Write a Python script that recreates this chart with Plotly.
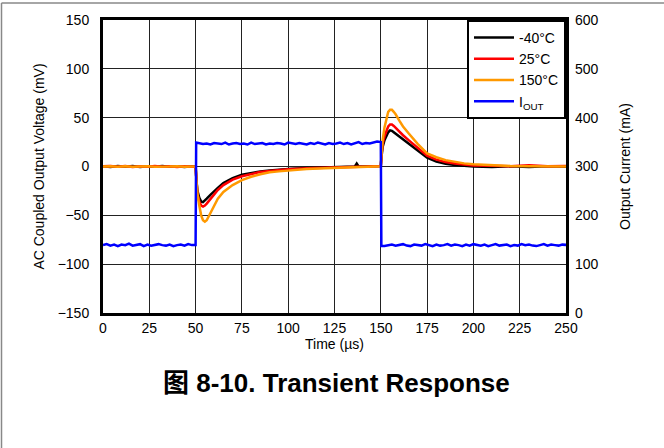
import plotly.graph_objects as go

# ---------------- data ----------------
v_t = [0, 4, 8, 12, 16, 20, 24, 28, 32, 36, 40, 44, 48, 50, 50.5, 51, 52, 53, 54, 55, 56, 58, 60, 62, 65, 68, 70,
       75, 80, 85, 90, 95, 100, 110, 120, 130, 136, 137, 138, 140, 148, 150, 150.5, 151, 152, 153, 154, 155, 156,
       157, 158, 160, 162, 165, 168, 170, 175, 180, 185, 190, 195, 200, 210, 220, 230, 240, 250]

v_m40 = [0.3, -0.4, 0.5, -0.2, 0.4, -0.5, 0.2, -0.3, 0.4, -0.2, 0.3, -0.4, 0.2, 0, -15, -25, -32, -36, -36.5, -35, -33, -29,
         -25, -22, -17, -14, -12, -8.5, -6.5, -5, -4, -3, -2.5, -1.5, -1, -0.5, 0, 3, 0, 0, 0, 0.5, 12, 20, 27, 32, 35,
         37, 36.5, 35, 33.5, 30.5, 27.5, 23, 18.5, 15.5, 9, 5, 2.8, 1.5, 0.8, 0, -0.6, 0.2, -0.5, 0.3, -0.2]

v_25 = [0.2, 0.5, -0.3, 0.4, -0.4, 0.3, -0.2, 0.5, -0.3, 0.2, -0.4, 0.3, -0.2, 0, -16, -28, -36, -40, -41, -40, -38, -33,
        -28, -24, -19, -15.5, -13.5, -10, -7.5, -5.5, -4.5, -3.5, -2.8, -1.8, -1, -0.6, -0.3, -0.2, -0.3, -0.2, 0, 0.5,
        14, 23, 31, 37, 41, 43, 43, 41.5, 39.5, 36, 32, 27, 22, 18.5, 11, 7, 4.5, 3, 2, 1, 0.8, 0.3, 1.2, 0.2, 0.6]

v_150 = [0, 0.3, -0.2, 0.2, -0.3, 0.1, 0.3, -0.2, 0.2, -0.1, 0.2, -0.3, 0, 0, -15, -28, -40, -50, -55, -56.5, -55, -48,
         -40, -33, -26, -21.5, -19, -14, -10.5, -8, -6, -5, -4, -2.5, -1.8, -1, -0.7, -0.6, -0.6, -0.5, -0.2, 0.3, 15,
         27, 40, 50, 56, 58, 58, 56, 53.5, 47, 41, 34, 27, 23, 13.5, 9.5, 6.5, 4.5, 3.2, 2.2, 1.2, 0.6, 0.3, 0.2, 0]

i_low1 = [139, 141, 138, 140, 137, 140, 139, 142, 138, 139, 141, 137, 140, 138, 139, 141, 139, 138, 140, 137,
          139, 140, 138, 141, 139, 139]
i_high = [349, 348, 346, 347, 345, 348, 347, 346, 349, 345, 347, 348, 346, 347, 345, 349, 346, 347, 348, 345,
          347, 346, 348, 347, 345, 349, 347, 346, 348, 347, 345, 348, 346, 349, 347, 345, 348, 346, 347, 349,
          346, 348, 345, 347, 350, 346, 348, 347, 349, 351, 350]
i_low2 = [137, 137, 139, 140, 138, 139, 141, 138, 137, 140, 139, 138, 141, 139, 137, 140, 138, 139, 141, 138,
          140, 139, 137, 140, 138, 141, 139, 138, 140, 137, 139, 141, 138, 139, 140, 137, 139, 138, 141, 139,
          140, 138, 137, 139, 141, 138, 140, 139, 138, 140, 139, 139]

t_low1 = [2 * k for k in range(len(i_low1) - 1)] + [50]
t_high = [50.3] + [52 + 2 * k for k in range(len(i_high) - 2)] + [150]
t_low2 = [150.3] + [152 + 2 * k for k in range(len(i_low2) - 1)]
i_t = t_low1 + t_high + t_low2
i_out = i_low1 + i_high + i_low2

x_ticks = [0, 25, 50, 75, 100, 125, 150, 175, 200, 225, 250]
y_ticks = [-150, -100, -50, 0, 50, 100, 150]
y2_ticks = [0, 100, 200, 300, 400, 500, 600]

# ---------------- figure ----------------
FONT = "Liberation Sans, Arial, sans-serif"
fig = go.Figure()
fig.add_trace(go.Scatter(x=v_t, y=v_m40, mode="lines", name="-40°C", line=dict(color="#000000", width=2.5)))
fig.add_trace(go.Scatter(x=v_t, y=v_25, mode="lines", name="25°C", line=dict(color="#ff0000", width=2.5)))
fig.add_trace(go.Scatter(x=v_t, y=v_150, mode="lines", name="150°C", line=dict(color="#ff9900", width=2.5)))
fig.add_trace(go.Scatter(x=i_t, y=i_out, mode="lines", name="I<sub>OUT</sub>", yaxis="y2",
                         line=dict(color="#0000ff", width=2.5)))

L, R, T, B = 103, 98, 20, 135
W, H = 664, 448
pw, ph = W - L - R, H - T - B

fig.update_layout(
    width=W, height=H,
    margin=dict(l=L, r=R, t=T, b=B, autoexpand=False),
    paper_bgcolor="white", plot_bgcolor="white",
    font=dict(family=FONT, size=14, color="black"),
    showlegend=True,
    legend=dict(x=1, y=1, xanchor="right", yanchor="top", bgcolor="white", bordercolor="black",
                borderwidth=2, font=dict(size=14), tracegroupgap=0, itemwidth=40),
    xaxis=dict(range=[0, 250], tickvals=x_ticks, showgrid=True, gridcolor="#222", gridwidth=1,
               showline=True, linecolor="black", linewidth=3, mirror=True, ticks="", zeroline=False,
               title=dict(text="Time (µs)", standoff=4, font=dict(size=14)), tickfont=dict(size=14)),
    yaxis=dict(range=[-150, 150], tickvals=y_ticks, showgrid=True, gridcolor="#222", gridwidth=1,
               showline=True, linecolor="black", linewidth=3, mirror=True, ticks="", zeroline=False,
               title=dict(text="AC Coupled Output Voltage (mV)", standoff=10, font=dict(size=14)),
               tickfont=dict(size=14), ticklabelstandoff=8),
    yaxis2=dict(range=[0, 600], tickvals=y2_ticks, overlaying="y", side="right", showgrid=False,
                showline=False, ticks="", zeroline=False,
                title=dict(text="Output Current (mA)", standoff=22, font=dict(size=14)),
                tickfont=dict(size=14), ticklabelstandoff=8),
)

fig.add_annotation(text="<b>图 8-10. Transient Response</b>", xref="paper", yref="paper",
                   x=(336 - L) / pw, y=-(383 - T - ph) / ph, xanchor="center", yanchor="middle", showarrow=False,
                   font=dict(family="Liberation Sans, Noto Sans CJK SC, sans-serif", size=26, color="black"))

# outer frame (top and left edges)
fig.add_shape(type="line", xref="paper", yref="paper", x0=-(L - 1.5) / pw, x1=(W - L) / pw,
              y0=1 + (T - 3) / ph, y1=1 + (T - 3) / ph, line=dict(color="#888", width=1.5))
fig.add_shape(type="line", xref="paper", yref="paper", x0=-(L - 1.5) / pw, x1=-(L - 1.5) / pw,
              y0=1 + (T - 3) / ph, y1=-(H - T - ph) / ph, line=dict(color="#888", width=1.5))

fig.write_html("out.html", config={"displayModeBar": False},
               post_script="document.body.style.margin='0px';")
